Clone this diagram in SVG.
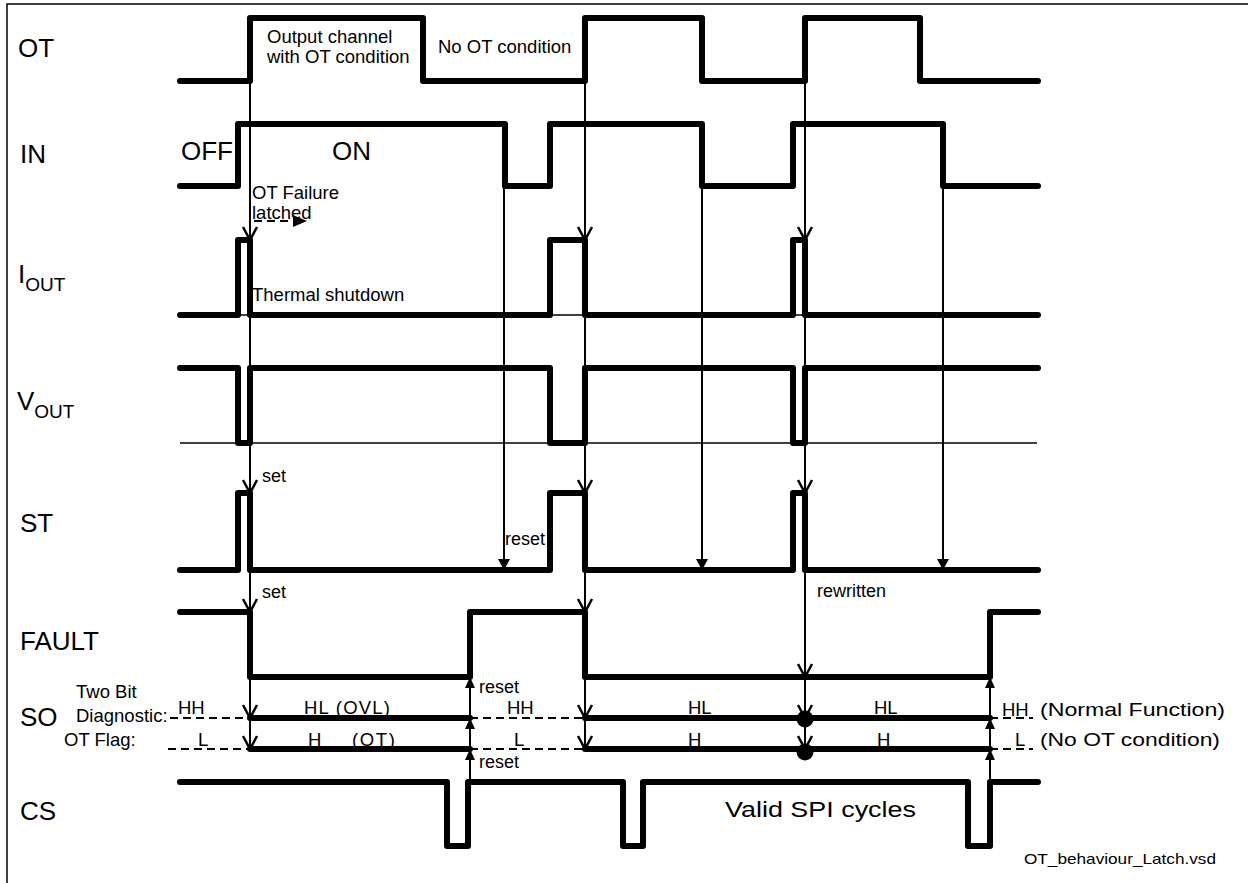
<svg xmlns="http://www.w3.org/2000/svg" width="1248" height="883" viewBox="0 0 1248 883">
<defs>
<style>
.sig{fill:none;stroke:#000;stroke-width:6;stroke-linecap:round;stroke-linejoin:round}
.thin{fill:none;stroke:#000;stroke-width:1.3}
.con{fill:none;stroke:#000;stroke-width:2}
.dash{fill:none;stroke:#000;stroke-width:2;stroke-dasharray:8 5}
text{font-family:"Liberation Sans",Arial,sans-serif;fill:#000}
.big{font-size:26px}
.sub{font-size:19px}
.t{font-size:18.5px}
.s{font-size:18px}
</style>
<marker id="open" markerUnits="userSpaceOnUse" markerWidth="30" markerHeight="30" viewBox="-20 -15 30 30" refX="0" refY="0" orient="auto" overflow="visible">
<path d="M-13,-7 L0,0 L-13,7" fill="none" stroke="#000" stroke-width="2.5"/>
</marker>
<marker id="fill" markerUnits="userSpaceOnUse" markerWidth="30" markerHeight="30" viewBox="-20 -15 30 30" refX="0" refY="0" orient="auto" overflow="visible">
<path d="M-11,-6 L0,0 L-11,6 Z" fill="#000"/>
</marker>
<marker id="fillup" markerUnits="userSpaceOnUse" markerWidth="30" markerHeight="30" viewBox="-20 -15 30 30" refX="0" refY="0" orient="auto" overflow="visible">
<path d="M-11,-5 L0,0 L-11,5 Z" fill="#000"/>
</marker>
</defs>
<rect x="0" y="0" width="1248" height="883" fill="#fff"/>
<rect x="7" y="4" width="1270" height="920" fill="none" stroke="#000" stroke-width="1.5"/>

<g id="labels">
<text class="big" x="18" y="57">OT</text>
<text class="big" x="20" y="163">IN</text>
<text class="big" x="18" y="283">I<tspan class="sub" dy="8">OUT</tspan></text>
<text class="big" x="17" y="410">V<tspan class="sub" dy="8">OUT</tspan></text>
<text class="big" x="20" y="532">ST</text>
<text class="big" x="20" y="650">FAULT</text>
<text class="big" x="20" y="726">SO</text>
<text class="big" x="20" y="820">CS</text>
</g>

<g id="sig-OT"><path class="sig" d="M180,81 H250 V18 H423 V81 H585 V18 H702 V81 H805 V18 H920 V81 H1038"/></g>
<g id="sig-IN"><path class="sig" d="M180,186 H238 V124 H505 V186 H550 V124 H702 V186 H793 V124 H943 V186 H1038"/></g>
<g id="sig-IOUT">
<path class="thin" d="M180,315 H1037"/>
<path class="sig" d="M180,315 H238 V240 H250 V315 H550 V240 H585 V315 H793 V240 H805 V315 H1038"/>
</g>
<g id="sig-VOUT">
<path class="thin" d="M180,443 H1037"/>
<path class="sig" d="M180,368 H238 V443 H250 V368 H550 V443 H585 V368 H793 V443 H805 V368 H1038"/>
</g>
<g id="sig-ST"><path class="sig" d="M180,570 H238 V493 H250 V570 H550 V493 H585 V570 H793 V493 H805 V570 H1038"/></g>
<g id="sig-FAULT"><path class="sig" d="M180,612 H250 V677 H470 V612 H585 V677 H990 V612 H1038"/></g>
<g id="sig-SO">
<path class="dash" d="M170,718 H250 M470,718 H585 M990,718 H1033"/>
<path class="dash" d="M168,749 H250 M470,749 H585 M990,749 H1033"/>
<path class="sig" d="M250,718 H470 M585,718 H990"/>
<path class="sig" d="M250,749 H470 M585,749 H990"/>
<circle cx="805" cy="719" r="8.5" fill="#000"/>
<circle cx="805" cy="752" r="8.5" fill="#000"/>
</g>
<g id="sig-CS"><path class="sig" d="M180,782 H447 V846 H468 V782 H623 V846 H643 V782 H968 V846 H990 V782 H1038"/></g>

<g id="connectors">
<path class="con" marker-end="url(#open)" d="M250,81 V240"/>
<path class="con" marker-end="url(#open)" d="M250,240 V493"/>
<path class="con" marker-end="url(#open)" d="M250,493 V612"/>
<path class="con" marker-end="url(#open)" d="M250,612 V718"/>
<path class="con" marker-end="url(#open)" d="M250,718 V749"/>
<path class="con" marker-end="url(#open)" d="M585,81 V240"/>
<path class="con" marker-end="url(#open)" d="M585,240 V493"/>
<path class="con" marker-end="url(#open)" d="M585,493 V612"/>
<path class="con" marker-end="url(#open)" d="M585,612 V718"/>
<path class="con" marker-end="url(#open)" d="M585,718 V749"/>
<path class="con" marker-end="url(#open)" d="M805,81 V240"/>
<path class="con" marker-end="url(#open)" d="M805,240 V493"/>
<path class="con" marker-end="url(#open)" d="M805,493 V677"/>
<path class="con" marker-end="url(#open)" d="M805,677 V718"/>
<path class="con" marker-end="url(#open)" d="M805,718 V749"/>
<path class="con" marker-end="url(#fill)" d="M504,186 V570"/>
<path class="con" marker-end="url(#fill)" d="M702,186 V570"/>
<path class="con" marker-end="url(#fill)" d="M943,186 V570"/>
<path class="con" marker-end="url(#fillup)" d="M470,782 V749"/>
<path class="con" marker-end="url(#fillup)" d="M470,749 V718"/>
<path class="con" marker-end="url(#fillup)" d="M470,718 V677"/>
<path class="con" marker-end="url(#fillup)" d="M990,782 V749"/>
<path class="con" marker-end="url(#fillup)" d="M990,749 V718"/>
<path class="con" marker-end="url(#fillup)" d="M990,718 V677"/>
<path class="dash" d="M254,221 H294" stroke-dasharray="7 4"/>
<path d="M293,215 L307,221 L293,227 Z" fill="#000"/>
</g>

<g id="annotations">
<text class="t" x="267" y="43">Output channel</text>
<text class="t" x="267" y="63">with OT condition</text>
<text class="t" x="438" y="53">No OT condition</text>
<text class="big" x="181" y="160">OFF</text>
<text class="big" x="332" y="160">ON</text>
<text class="t" x="252" y="199">OT Failure</text>
<text class="t" x="252" y="219">latched</text>
<text class="t" x="252" y="301">Thermal shutdown</text>
<text class="s" x="262" y="482">set</text>
<text class="s" x="262" y="598">set</text>
<text class="s" x="505" y="545">reset</text>
<text class="s" x="817" y="597">rewritten</text>
<text class="s" x="479" y="693">reset</text>
<text class="s" x="479" y="768">reset</text>
<text class="t" x="76" y="698">Two Bit</text>
<text class="t" x="76" y="722">Diagnostic:</text>
<text class="t" x="178" y="714">HH</text>
<text class="t" x="304" y="714" textLength="86" lengthAdjust="spacing">HL (OVL)</text>
<text class="t" x="507" y="714">HH</text>
<text class="t" x="688" y="714">HL</text>
<text class="t" x="874" y="714">HL</text>
<text class="t" x="1002" y="716">HH</text>
<text class="t" x="1040" y="716" textLength="185" lengthAdjust="spacingAndGlyphs">(Normal Function)</text>
<text class="t" x="64" y="746">OT Flag:</text>
<text class="t" x="198" y="746">L</text>
<text class="t" x="308" y="746">H</text>
<text class="t" x="352" y="746" textLength="43" lengthAdjust="spacing">(OT)</text>
<text class="t" x="514" y="746">L</text>
<text class="t" x="688" y="746">H</text>
<text class="t" x="877" y="746">H</text>
<text class="t" x="1015" y="746">L</text>
<text class="t" x="1040" y="746" textLength="180" lengthAdjust="spacingAndGlyphs">(No OT condition)</text>
<text x="725" y="817" font-size="22" textLength="191" lengthAdjust="spacingAndGlyphs">Valid SPI cycles</text>
<text x="1024" y="864" font-size="15" textLength="192" lengthAdjust="spacingAndGlyphs">OT_behaviour_Latch.vsd</text>
</g>
</svg>
